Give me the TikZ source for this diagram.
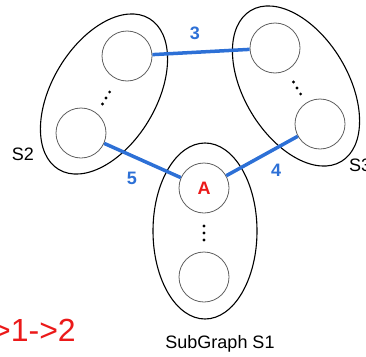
\documentclass[tikz,border=0pt]{standalone}
\usepackage{fontspec}
\setmainfont{Liberation Sans}
\usepackage{tikz}
\usetikzlibrary{shapes.geometric,positioning}
\definecolor{EdgeBlue}{RGB}{45,112,214}
\definecolor{AlertRed}{RGB}{235,25,25}
\definecolor{RingGray}{RGB}{95,95,95}

\begin{document}
\begin{tikzpicture}[x=1pt, y=-1pt,
    group/.style={draw, ellipse, line width=1.1pt, minimum width=176pt, minimum height=104pt, inner sep=0pt},
    vertex/.style={draw=RingGray, circle, line width=0.8pt, minimum size=50pt, inner sep=0pt},
    link/.style={EdgeBlue, line width=3.5pt},
    weight/.style={text=EdgeBlue, inner sep=0pt, font=\fontsize{18}{18}\selectfont\bfseries},
    setname/.style={inner sep=0pt, font=\fontsize{18}{18}\selectfont}]
    \useasboundingbox (0,0) rectangle (366,356);

    % subgraphs
    \node [group, rotate=90] (g1) at (205,231) {};
    \node [group, rotate=59] (g2) at (104,94) {};
    \node [group, rotate=-59] (g3) at (296,86) {};

    % vertices
    \node [vertex, text=AlertRed, font=\fontsize{18}{18}\selectfont\bfseries] (s1a) at (204,188) {A};
    \node [vertex] (s1b) at (204,277) {};
    \node [vertex] (s2a) at (127,56) {};
    \node [vertex] (s2b) at (81,133) {};
    \node [vertex] (s3a) at (275,48) {};
    \node [vertex] (s3b) at (320,124) {};

    % elided vertices
    \foreach \p in {(204,226),(204,233),(204,240),(102.4,104),(106,98),(109.6,92),(293.4,82),(297,88),(300.6,94)}
        \fill \p circle (1.6);

    % weighted edges
    \draw [link] (s2a) -- (s3a);
    \draw [link] (s2b) -- (s1a);
    \draw [link] (s1a) -- (s3b);
    \node [weight] (w3) at (195,33) {3};
    \node [weight] (w5) at (132,178) {5};
    \node [weight] (w4) at (276,170) {4};

    % names
    \node [setname] (n2) at (23,154) {S2};
    \node [setname, anchor=west] (n3) at (349,165) {S3};
    \node [setname] (n1) at (220,344) {SubGraph S1};
    \node [anchor=base east, inner sep=0pt, text=AlertRed, font=\fontsize{32}{32}\selectfont] (path) at (76,341) {>1->2};
\end{tikzpicture}
\end{document}
